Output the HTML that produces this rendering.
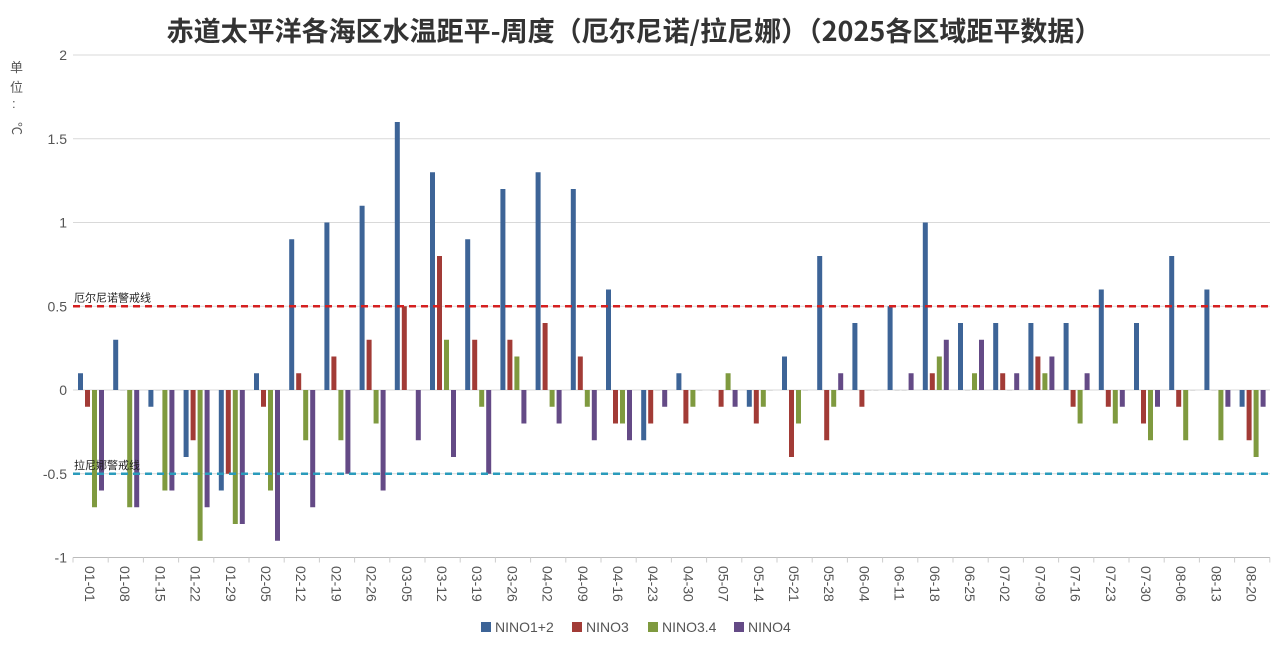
<!DOCTYPE html>
<html><head><meta charset="utf-8"><style>
body{margin:0;background:#fff;width:1276px;height:651px;overflow:hidden;font-family:"Liberation Sans","Noto Sans CJK SC",sans-serif;}
</style></head><body>
<svg id="c" width="1276" height="651" xmlns="http://www.w3.org/2000/svg" font-family="Liberation Sans, Noto Sans CJK SC, sans-serif">
<text x="634" y="41" text-anchor="middle" font-size="27" font-weight="bold" fill="#333" font-family="Noto Sans CJK SC, sans-serif">赤道太平洋各海区水温距平-周度（厄尔尼诺/拉尼娜）（2025各区域距平数据）</text>
<text x="10" y="72" font-size="13" fill="#555" font-family="Noto Sans CJK SC, sans-serif">单</text>
<text x="10" y="92" font-size="13" fill="#555" font-family="Noto Sans CJK SC, sans-serif">位</text>
<text x="12" y="108" font-size="13" fill="#555">:</text>
<text x="10" y="132" font-size="13" fill="#555" transform="rotate(90 16 128)">℃</text>
</svg>
<script>
const s=document.getElementById('c');const NS='http://www.w3.org/2000/svg';
function el(t,a,txt){const e=document.createElementNS(NS,t);for(const k in a)e.setAttribute(k,a[k]);if(txt!=null)e.textContent=txt;s.appendChild(e);return e;}
const y0=390,u=167.5,x0=73,cw=35.2;
const Y=v=>y0-v*u;
[2,1.5,1,0.5,0,-0.5].forEach(v=>el('line',{x1:x0,x2:1270,y1:Y(v),y2:Y(v),stroke:'#d9d9d9','stroke-width':1}));
el('line',{x1:x0,x2:1270,y1:Y(-1),y2:Y(-1),stroke:'#bbb','stroke-width':1});
[2,1.5,1,0.5,0,-0.5,-1].forEach(v=>el('text',{x:67,y:Y(v)+5,'text-anchor':'end','font-size':14,fill:'#555'},String(v)));
const labels=['01-01','01-08','01-15','01-22','01-29','02-05','02-12','02-19','02-26','03-05','03-12','03-19','03-26','04-02','04-09','04-16','04-23','04-30','05-07','05-14','05-21','05-28','06-04','06-11','06-18','06-25','07-02','07-09','07-16','07-23','07-30','08-06','08-13','08-20'];
const d=[[0.1,-0.1,-0.7,-0.6],[0.3,0,-0.7,-0.7],[-0.1,0,-0.6,-0.6],[-0.4,-0.3,-0.9,-0.7],[-0.6,-0.5,-0.8,-0.8],[0.1,-0.1,-0.6,-0.9],[0.9,0.1,-0.3,-0.7],[1.0,0.2,-0.3,-0.5],[1.1,0.3,-0.2,-0.6],[1.6,0.5,0,-0.3],[1.3,0.8,0.3,-0.4],[0.9,0.3,-0.1,-0.5],[1.2,0.3,0.2,-0.2],[1.3,0.4,-0.1,-0.2],[1.2,0.2,-0.1,-0.3],[0.6,-0.2,-0.2,-0.3],[-0.3,-0.2,0,-0.1],[0.1,-0.2,-0.1,0],[0,-0.1,0.1,-0.1],[-0.1,-0.2,-0.1,0],[0.2,-0.4,-0.2,0],[0.8,-0.3,-0.1,0.1],[0.4,-0.1,0,0],[0.5,0,0,0.1],[1.0,0.1,0.2,0.3],[0.4,0,0.1,0.3],[0.4,0.1,0,0.1],[0.4,0.2,0.1,0.2],[0.4,-0.1,-0.2,0.1],[0.6,-0.1,-0.2,-0.1],[0.4,-0.2,-0.3,-0.1],[0.8,-0.1,-0.3,0],[0.6,0,-0.3,-0.1],[-0.1,-0.3,-0.4,-0.1]];
const col=['#3d6497','#a23b36','#7f9a3f','#644a86'];
for(let i=0;i<=34;i++)el('line',{x1:x0+i*cw,x2:x0+i*cw,y1:Y(-1),y2:Y(-1)+5,stroke:'#ccc'});
d.forEach((g,i)=>{g.forEach((v,j)=>{const x=x0+i*cw+5+j*7;const h=Math.abs(v)*u;el('rect',{x:x,y:v>=0?Y(v):y0,width:5,height:Math.max(h,1),fill:v==0?'#ddd':col[j]});});
el('text',{x:0,y:0,'font-size':14,fill:'#555',transform:`translate(${x0+i*cw+12},566) rotate(90)`},labels[i]);});
el('line',{x1:x0,x2:1270,y1:Y(0.5),y2:Y(0.5),stroke:'#d42020','stroke-width':2.5,'stroke-dasharray':'7,5'});
el('line',{x1:x0,x2:1270,y1:Y(-0.5),y2:Y(-0.5),stroke:'#2a9bbb','stroke-width':2.5,'stroke-dasharray':'7,5'});
el('text',{x:74,y:Y(0.5)-5,'font-size':11,fill:'#222','font-family':'Noto Sans CJK SC, sans-serif'},'厄尔尼诺警戒线');
el('text',{x:74,y:Y(-0.5)-5,'font-size':11,fill:'#222','font-family':'Noto Sans CJK SC, sans-serif'},'拉尼娜警戒线');
const lg=[['NINO1+2',481],['NINO3',572],['NINO3.4',648],['NINO4',734]];
lg.forEach((l,j)=>{el('rect',{x:l[1],y:622,width:10,height:10,fill:col[j]});el('text',{x:l[1]+14,y:632,'font-size':14,fill:'#555'},l[0]);});
</script>
</body></html>
